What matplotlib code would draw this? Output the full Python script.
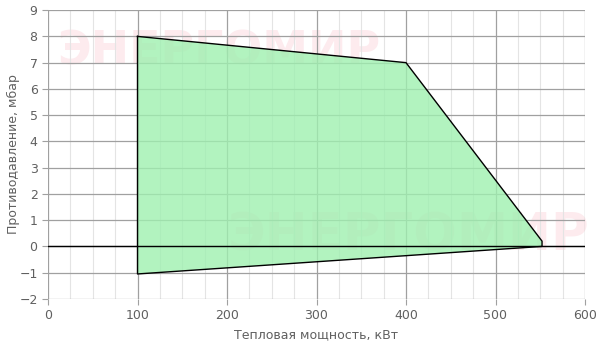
import matplotlib
matplotlib.use("Agg")
import matplotlib.pyplot as plt
from matplotlib.ticker import MultipleLocator

power_kw = [100, 400, 552, 552, 100]
pressure_mbar = [8.0, 7.0, 0.2, 0.0, -1.05]
x_ticks = [0, 100, 200, 300, 400, 500, 600]
y_ticks = [-2, -1, 0, 1, 2, 3, 4, 5, 6, 7, 8, 9]

fig = plt.figure(figsize=(6, 3.5), dpi=100)
ax = fig.add_axes([0.08, 0.146, 0.895, 0.825])
ax.set_axisbelow(True)

ax.set_xlim(0, 600)
ax.set_ylim(-2, 9)
ax.set_xticks(x_ticks)
ax.set_yticks(y_ticks)
ax.xaxis.set_minor_locator(MultipleLocator(25))
ax.grid(True, which="major", color="#a0a0a0", linewidth=0.9)
ax.grid(True, which="minor", axis="x", color="#e4e4e4", linewidth=0.8)

# watermarks
for (tx, ty, fs) in [(0.317, 0.855, 33), (0.672, 0.215, 37)]:
    ax.text(tx, ty, "ЭНЕРГОМИР", transform=ax.transAxes, fontsize=fs,
            fontweight="bold", family="DejaVu Sans", color="#fdebee",
            ha="center", va="center", zorder=0.3)

ax.fill(power_kw, pressure_mbar, facecolor="#9ff0b0", alpha=0.8,
        edgecolor="none", zorder=2)
ax.plot(power_kw + [power_kw[0]], pressure_mbar + [pressure_mbar[0]],
        color="black", linewidth=1.0, zorder=3)
ax.axhline(0, color="black", linewidth=1.0, zorder=3)

for s in ax.spines.values():
    s.set_visible(False)
ax.tick_params(which="both", length=4, color="#a0a0a0", labelcolor="#606060",
               labelsize=9)
ax.tick_params(which="minor", length=0)

ax.set_xlabel("Тепловая мощность, кВт", color="#606060", fontsize=9)
ax.set_ylabel("Противодавление, мбар", color="#606060", fontsize=9)
ax.yaxis.set_label_coords(-0.052, 0.5)

fig.savefig("out.png", dpi=100)
